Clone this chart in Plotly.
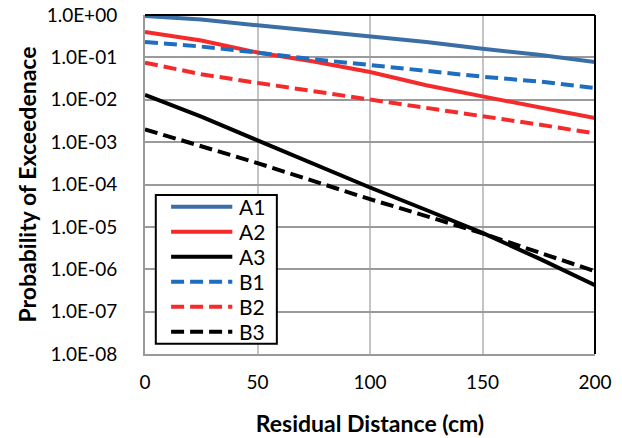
import plotly.graph_objects as go

# Residual distance (cm)
distance = [0, 25, 50, 75, 100, 125, 150, 175, 200]

# Probability of exceedance for each case
a1 = [0.95, 0.78, 0.57, 0.42, 0.30, 0.23, 0.16, 0.115, 0.078]
a2 = [0.40, 0.25, 0.13, 0.08, 0.045, 0.022, 0.012, 0.0068, 0.0037]
a3 = [0.013, 0.0040, 0.0011, 0.0003, 8.5e-5, 2.5e-5, 7.2e-6, 1.8e-6, 4.2e-7]
b1 = [0.23, 0.18, 0.13, 0.09, 0.066, 0.048, 0.035, 0.027, 0.019]
b2 = [0.075, 0.04, 0.025, 0.016, 0.010, 0.0065, 0.0041, 0.0026, 0.0016]
b3 = [0.0020, 0.0008, 0.00032, 0.00012, 4.5e-5, 1.8e-5, 7e-6, 2.5e-6, 9e-7]

y_tickvals = [1e-8, 1e-7, 1e-6, 1e-5, 1e-4, 1e-3, 1e-2, 1e-1, 1]
y_ticktext = ["1.0E-08", "1.0E-07", "1.0E-06", "1.0E-05", "1.0E-04",
              "1.0E-03", "1.0E-02", "1.0E-01", "1.0E+00"]
x_tickvals = [0, 50, 100, 150, 200]

FONT = "Lato, 'Open Sans', sans-serif"
DASH = "13px,6px"

series = [
    ("A1", a1, "#3c6ea6", "solid"),
    ("A2", a2, "#f52a2a", "solid"),
    ("A3", a3, "#000000", "solid"),
    ("B1", b1, "#1e6ec0", DASH),
    ("B2", b2, "#f52a2a", DASH),
    ("B3", b3, "#000000", DASH),
]

fig = go.Figure()
for name, vals, color, dash in series:
    fig.add_trace(go.Scatter(
        x=distance, y=vals, name=name, mode="lines",
        line=dict(color=color, width=4, dash=dash),
        showlegend=False,
    ))

fig.update_layout(
    width=622, height=438,
    margin=dict(l=145, r=27, t=15, b=84),
    paper_bgcolor="white", plot_bgcolor="white",
    font=dict(family=FONT, size=19, color="#000000"),
    showlegend=False,
)

fig.update_xaxes(
    range=[0, 200], tickvals=x_tickvals, automargin=False,
    showgrid=True, gridcolor="#c4c4c4", gridwidth=1.5,
    showline=True, linecolor="#999999", linewidth=2,
    zeroline=False, ticks="", ticklabelstandoff=10,
    title=dict(text="<b>Residual Distance (cm)</b>", font=dict(family=FONT, size=23), standoff=24),
)
fig.update_yaxes(
    type="log", range=[-8, 0], tickvals=y_tickvals, ticktext=y_ticktext, automargin=False,
    showgrid=True, gridcolor="#9a9a9a", gridwidth=1.5,
    showline=True, linecolor="#999999", linewidth=2,
    zeroline=False, ticks="", ticklabelstandoff=22,
    title=dict(text="<b>Probability of Exceedenace</b>", font=dict(family=FONT, size=23), standoff=4),
)

# Top and right border of the plot area
fig.add_shape(type="line", xref="paper", yref="paper", x0=0, x1=1, y0=1, y1=1,
              line=dict(color="#000000", width=2), layer="above")
fig.add_shape(type="line", xref="paper", yref="paper", x0=1, x1=1, y0=0, y1=1,
              line=dict(color="#000000", width=2), layer="above")

# Legend box with long line samples (paper coordinates)
box_x0, box_x1, box_top, box_bot = 0.024, 0.293, 0.469, 0.030
fig.add_shape(type="rect", xref="paper", yref="paper",
              x0=box_x0, x1=box_x1, y0=box_bot, y1=box_top,
              line=dict(color="#000000", width=2), fillcolor="white", layer="above")
row_top, row_step = 0.434, 0.0737
for i, (name, vals, color, dash) in enumerate(series):
    yy = row_top - i * row_step
    fig.add_shape(type="line", xref="paper", yref="paper",
                  x0=0.058, x1=0.194, y0=yy, y1=yy,
                  line=dict(color=color, width=4, dash=dash), layer="above")
    fig.add_annotation(xref="paper", yref="paper", x=0.205, y=yy,
                       xanchor="left", yanchor="middle", text=name,
                       showarrow=False, font=dict(family=FONT, size=21, color="#000000"))

fig.write_html("out.html")
